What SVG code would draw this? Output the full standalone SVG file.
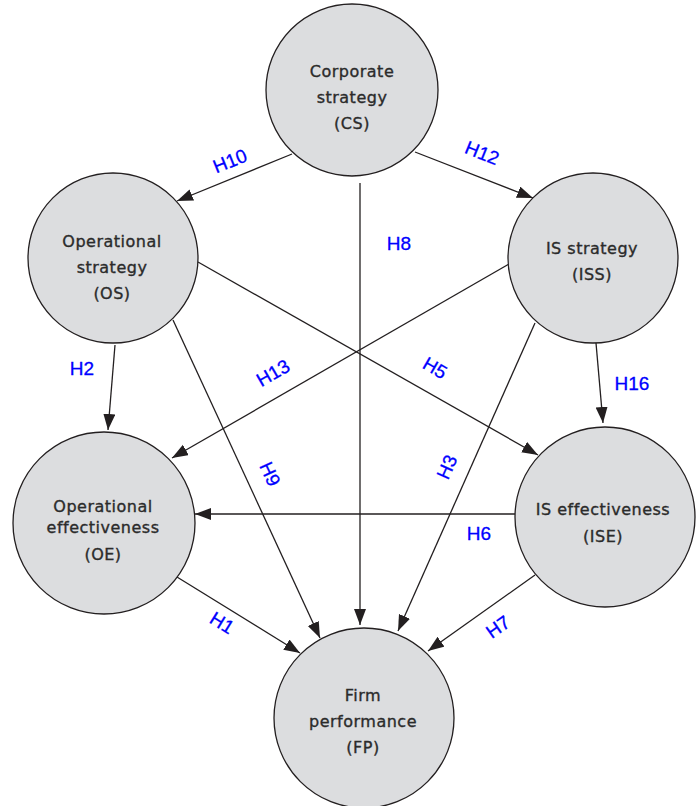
<svg xmlns="http://www.w3.org/2000/svg" width="699" height="806" viewBox="0 0 699 806">
<style>
.node circle{fill:#dcdddf;stroke:#231f20;stroke-width:1.3}
.node text{font-family:"DejaVu Sans","Liberation Sans",sans-serif;font-size:16px;letter-spacing:0.5px;fill:#2b2b2b;stroke:#2b2b2b;stroke-width:0.35;text-anchor:middle}
.edge line{stroke:#231f20;stroke-width:1.3;fill:none;marker-end:url(#arr)}
.lbl{font-family:"Liberation Sans",Arial,sans-serif;font-size:19px;fill:#0000ff;stroke:#0000ff;stroke-width:0.3;text-anchor:middle;dominant-baseline:central}
</style>
<defs>
<marker id="arr" markerUnits="userSpaceOnUse" markerWidth="17" markerHeight="13" refX="16" refY="6" orient="auto">
<path d="M0,0 L16,6 L0,12 z" fill="#231f20"/>
</marker>
</defs>
<rect width="699" height="806" fill="#ffffff"/>
<g id="connectors" class="edge">
<line x1="292" y1="154" x2="177" y2="201"/>
<line x1="415" y1="152" x2="533" y2="198"/>
<line x1="360" y1="183" x2="360" y2="625"/>
<line x1="115" y1="345" x2="108" y2="430"/>
<line x1="173" y1="320" x2="320" y2="638"/>
<line x1="198" y1="262" x2="538" y2="455"/>
<line x1="509" y1="264" x2="172" y2="458"/>
<line x1="535" y1="323" x2="398" y2="631"/>
<line x1="596" y1="343" x2="603" y2="423"/>
<line x1="515" y1="514" x2="195" y2="514"/>
<line x1="535" y1="575" x2="428" y2="651"/>
<line x1="177" y1="577" x2="300" y2="653"/>
</g>
<g id="labels">
<text class="lbl" transform="translate(230,161) rotate(-22)">H10</text>
<text class="lbl" transform="translate(482,153) rotate(22)">H12</text>
<text class="lbl" x="399" y="243">H8</text>
<text class="lbl" x="82" y="368">H2</text>
<text class="lbl" transform="translate(273,373) rotate(-30)">H13</text>
<text class="lbl" transform="translate(270,474) rotate(65)">H9</text>
<text class="lbl" transform="translate(435,368) rotate(30)">H5</text>
<text class="lbl" x="632" y="383">H16</text>
<text class="lbl" transform="translate(447,467) rotate(-66)">H3</text>
<text class="lbl" x="479" y="533">H6</text>
<text class="lbl" transform="translate(222,623) rotate(32)">H1</text>
<text class="lbl" transform="translate(498,627) rotate(-35)">H7</text>
</g>
<g id="CS" class="node">
<circle cx="352" cy="90" r="86"/>
<text x="352" y="77">Corporate</text>
<text x="352" y="103">strategy</text>
<text x="352" y="129">(CS)</text>
</g>
<g id="OS" class="node">
<circle cx="113" cy="258" r="85"/>
<text x="112" y="247">Operational</text>
<text x="112" y="273">strategy</text>
<text x="112" y="299">(OS)</text>
</g>
<g id="ISS" class="node">
<circle cx="593" cy="258" r="85"/>
<text x="592" y="254">IS strategy</text>
<text x="592" y="280">(ISS)</text>
</g>
<g id="OE" class="node">
<circle cx="104" cy="523" r="91"/>
<text x="103" y="512">Operational</text>
<text x="103" y="533">effectiveness</text>
<text x="103" y="560">(OE)</text>
</g>
<g id="ISE" class="node">
<circle cx="605" cy="517" r="90"/>
<text x="603" y="515">IS effectiveness</text>
<text x="603" y="542">(ISE)</text>
</g>
<g id="FP" class="node">
<circle cx="364" cy="718" r="90"/>
<text x="363" y="701">Firm</text>
<text x="363" y="727">performance</text>
<text x="363" y="753">(FP)</text>
</g>
</svg>
